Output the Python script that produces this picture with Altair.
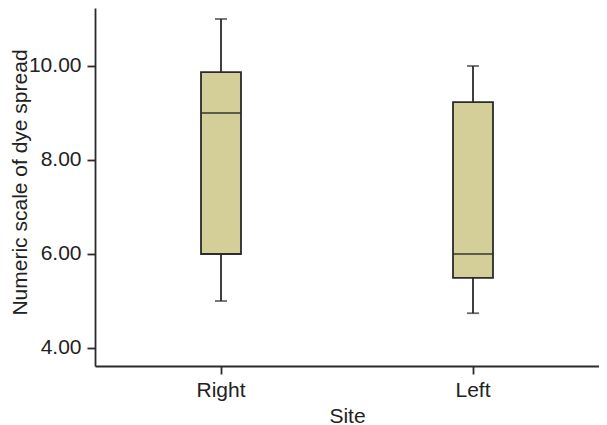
import altair as alt
import pandas as pd

sites = ["Right", "Left"]
whisker_low = [5.0, 4.74]
q1 = [6.0, 5.49]
median = [9.0, 6.0]
q3 = [9.87, 9.23]
whisker_high = [11.0, 10.0]

df = pd.DataFrame({
    "Site": sites,
    "low": whisker_low,
    "q1": q1,
    "median": median,
    "q3": q3,
    "high": whisker_high,
})

font = "Liberation Sans"
dark = "#2b2b2b"
fill = "#D4CE98"
lw = 1.8

x_enc = alt.X("Site:N", sort=sites, title="Site",
              scale=alt.Scale(paddingInner=0, paddingOuter=0),
              axis=alt.Axis(labelAngle=0, tickSize=8, labelPadding=5,
                            titlePadding=5, titleFontSize=21))
y_scale = alt.Scale(domain=[3.617, 11.234], nice=False, zero=False)
y_axis = alt.Axis(values=[4, 6, 8, 10], format=".2f", tickSize=8,
                  labelPadding=6, grid=False, titleFontSize=21,
                  titleX=-69, titleY=174, titleAngle=270,
                  titleAlign="center", titleBaseline="alphabetic")

base = alt.Chart(df)

whisk_lo = base.mark_rule(color=dark, strokeWidth=lw).encode(
    x=x_enc, y=alt.Y("low:Q", scale=y_scale, axis=y_axis,
                     title="Numeric scale of dye spread"),
    y2="q1:Q")
whisk_hi = base.mark_rule(color=dark, strokeWidth=lw).encode(
    x=x_enc, y=alt.Y("q3:Q", scale=y_scale), y2="high:Q")
box = base.mark_bar(size=40, fill=fill, stroke=dark, strokeWidth=lw).encode(
    x=x_enc, y=alt.Y("q1:Q", scale=y_scale), y2="q3:Q")
med = base.mark_tick(size=40, thickness=lw, color=dark).encode(
    x=x_enc, y=alt.Y("median:Q", scale=y_scale))
cap_lo = base.mark_tick(size=12, thickness=lw, color=dark).encode(
    x=x_enc, y=alt.Y("low:Q", scale=y_scale))
cap_hi = base.mark_tick(size=12, thickness=lw, color=dark).encode(
    x=x_enc, y=alt.Y("high:Q", scale=y_scale))

chart = alt.layer(whisk_lo, whisk_hi, box, med, cap_lo, cap_hi).properties(
    width=504, height=358,
    autosize=alt.AutoSizeParams(type="none"),
    padding={"left": 87, "top": 0, "right": 0, "bottom": 60},
).configure_view(stroke=None).configure_axis(
    labelFont=font, titleFont=font, labelFontSize=21,
    titleFontWeight="normal", labelColor="#222222", titleColor="#222222",
    domainColor=dark, tickColor=dark, domainWidth=lw, tickWidth=lw,
)

chart.save("out.html", embed_options={"renderer": "svg", "actions": False})
